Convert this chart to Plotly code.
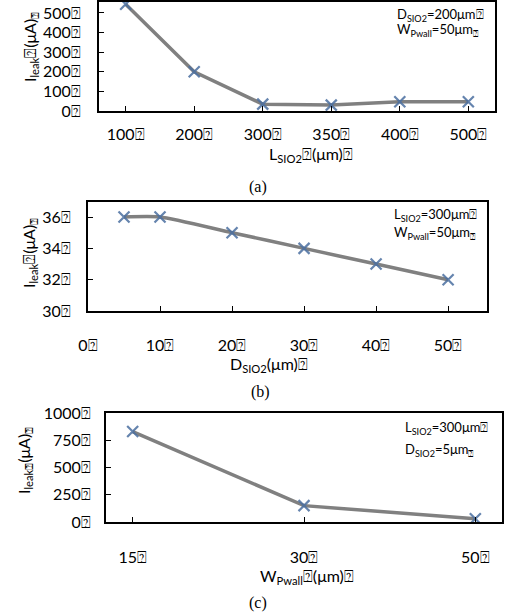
import plotly.graph_objects as go

T = "\u2370"  # placeholder glyph shown as box in the source

# (a)
a_cats = ["100", "200", "300", "350", "400", "500"]
a_vals = [545, 200, 35, 30, 47, 47]
# (b)
b_x = [5, 10, 20, 30, 40, 50]
b_vals = [36, 36, 35, 34, 33, 32]
# (c)
c_cats = ["15", "30", "50"]
c_vals = [830, 150, 30]

W, H = 505, 616
LINE = "#808080"
MARK = "rgba(74,110,160,0.85)"
FONT = "Lato, 'Open Sans', sans-serif"

def px(x):
    return x / W

def py(y):
    return 1 - y / H

fig = go.Figure()

mk = dict(symbol="x-thin", size=11, line=dict(width=2.2, color=MARK), color=MARK)

fig.add_trace(go.Scatter(x=a_cats, y=a_vals, mode="lines+markers", xaxis="x", yaxis="y",
                         line=dict(color=LINE, width=3.5), marker=mk, showlegend=False))
fig.add_trace(go.Scatter(x=b_x, y=b_vals, mode="lines+markers", xaxis="x2", yaxis="y2",
                         line=dict(color=LINE, width=3.5, shape="spline", smoothing=0.6),
                         marker=mk, showlegend=False))
fig.add_trace(go.Scatter(x=c_cats, y=c_vals, mode="lines+markers", xaxis="x3", yaxis="y3",
                         line=dict(color=LINE, width=3.5), marker=mk, showlegend=False))

axcommon = dict(showline=True, linecolor="black", linewidth=2, mirror=True, ticks="inside",
                ticklen=5, tickwidth=1.2, tickcolor="black", showgrid=False, zeroline=False,
                automargin=False,
                tickfont=dict(family=FONT, size=16, color="black"))

fig.update_layout(
    width=W, height=H, margin=dict(l=0, r=0, t=0, b=0, autoexpand=False),
    paper_bgcolor="white", plot_bgcolor="white",
    xaxis=dict(domain=[px(99), px(495)], anchor="y", type="category",
               ticktext=[c + T for c in a_cats], tickvals=a_cats, ticklabelstandoff=8, **axcommon),
    yaxis=dict(domain=[py(111), py(2)], anchor="x", range=[0, 556],
               tickvals=[0, 100, 200, 300, 400, 500],
               ticktext=[str(v) + T for v in [0, 100, 200, 300, 400, 500]],
               ticklabelstandoff=13, **axcommon),
    xaxis2=dict(domain=[px(88), px(487)], anchor="y2", range=[0, 55.4],
                tickvals=[0, 10, 20, 30, 40, 50],
                ticktext=[str(v) + T for v in [0, 10, 20, 30, 40, 50]],
                ticklabelstandoff=19, **axcommon),
    yaxis2=dict(domain=[py(311), py(202)], anchor="x2", range=[30, 36.96],
                tickvals=[30, 32, 34, 36], ticktext=[str(v) + T for v in [30, 32, 34, 36]],
                ticklabelstandoff=12, **axcommon),
    xaxis3=dict(domain=[px(106), px(502)], anchor="y3", type="category",
                tickvals=c_cats, ticktext=[c + T for c in c_cats], ticklabelstandoff=20, **axcommon),
    yaxis3=dict(domain=[py(522), py(413)], anchor="x3", range=[0, 1000],
                tickvals=[0, 250, 500, 750, 1000],
                ticktext=[str(v) + T for v in [0, 250, 500, 750, 1000]],
                ticklabelstandoff=10, **axcommon),
)

ann = []

def text(x, y, s, size=16, fam=FONT, angle=0, xanchor="center"):
    ann.append(dict(x=px(x), y=py(y), xref="paper", yref="paper", text=s, showarrow=False,
                    textangle=angle, xanchor=xanchor, yanchor="middle",
                    font=dict(family=fam, size=size, color="black")))

# axis titles
text(311, 154, "L<sub>SIO2</sub>" + T + "(μm)" + T)
text(269, 364, "D<sub>SIO2</sub>(μm)" + T)
text(307, 576, "W<sub>Pwall</sub>" + T + "(μm)" + T)
text(30, 47, "I<sub>leak</sub>" + T + "(μA)<sub>" + T + "</sub>", angle=-90)
text(29, 253, "I<sub>leak</sub>" + T + "(μA)<sub>" + T + "</sub>", angle=-90)
text(24, 461, "I<sub>leak</sub><sub>" + T + "</sub>(μA)<sub>" + T + "</sub>", angle=-90)

# captions
SERIF = "'Liberation Serif', 'Times New Roman', serif"
text(258, 187, "(a)", size=16, fam=SERIF)
text(260, 392, "(b)", size=16, fam=SERIF)
text(258, 603, "(c)", size=16, fam=SERIF)

# condition notes
text(395, 15, "D<sub>SIO2</sub>=200μm" + T, size=13, xanchor="left")
text(395, 30, "W<sub>Pwall</sub>=50μm<sub>" + T + "</sub>", size=13, xanchor="left")
text(392, 215, "L<sub>SIO2</sub>=300μm" + T, size=13, xanchor="left")
text(392, 233, "W<sub>Pwall</sub>=50μm<sub>" + T + "</sub>", size=13, xanchor="left")
text(403, 428, "L<sub>SIO2</sub>=300μm" + T, size=13, xanchor="left")
text(403, 450, "D<sub>SIO2</sub>=5μm<sub>" + T + "</sub>", size=13, xanchor="left")

fig.update_layout(annotations=ann)
fig.write_html("out.html", post_script="document.body.style.margin='0px';",
               config={"displayModeBar": False})
